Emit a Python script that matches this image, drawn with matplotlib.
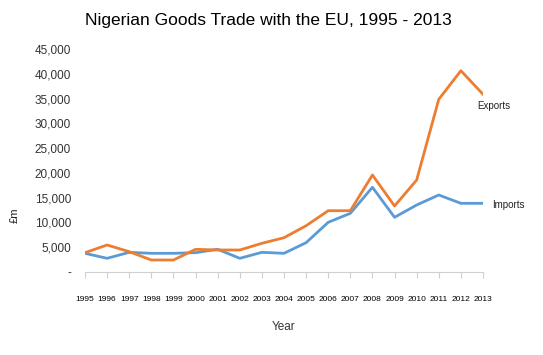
import matplotlib
matplotlib.use("Agg")
import matplotlib.pyplot as plt
from matplotlib.ticker import FuncFormatter

years = list(range(1995, 2014))
exports = [3900, 5450, 4100, 2420, 2420, 4580, 4440, 4440, 5790, 6920,
           9340, 12370, 12370, 19570, 13320, 18560, 34850, 40620, 35860]
imports = [3770, 2760, 3970, 3770, 3770, 3900, 4580, 2760, 3970, 3770,
           5920, 10030, 11840, 17090, 11040, 13520, 15540, 13860, 13860]

plt.rcParams['font.family'] = ['Liberation Sans', 'DejaVu Sans']

fig = plt.figure(figsize=(5.43, 3.55), dpi=100)
ax = fig.add_axes([85/543, 1-272/355, 398/543, 223/355])

x = list(range(len(years)))
ax.plot(x, imports, color='#5B9BD5', lw=2.0, solid_joinstyle='round')
ax.plot(x, exports, color='#ED7D31', lw=2.0, solid_joinstyle='round')

ax.set_xlim(0, len(years)-1)
ax.set_ylim(0, 45000)
ax.set_yticks(range(0, 45001, 5000))
ax.yaxis.set_major_formatter(FuncFormatter(lambda v, p: '-' if v == 0 else f'{int(v):,}'))
ax.set_xticks(x)
ax.set_xticklabels([str(y) for y in years], fontsize=6)
ax.tick_params(axis='y', length=0, labelsize=8.5, pad=10, colors='#333333')
ax.tick_params(axis='x', length=4, color='#d0d0d0', pad=13, labelsize=6)
for s in ['top', 'right', 'left']:
    ax.spines[s].set_visible(False)
ax.spines['bottom'].set_color('#d0d0d0')

ax.set_xlabel('Year', fontsize=8.5, labelpad=13, color='#333333')
ax.set_ylabel('£m', fontsize=8, color='#222222')
ax.yaxis.set_label_coords(-0.165, 0.256)

ax.text(17.75, 35860 - 2300, 'Exports', fontsize=7, ha='left', va='center', color='#222222')
ax.text(18.4, 13500, 'Imports', fontsize=7, ha='left', va='center', color='#222222')

fig.text(268/543, 1-20/355, 'Nigerian Goods Trade with the EU, 1995 - 2013',
         ha='center', va='center', fontsize=12.5)

fig.savefig('out.png', dpi=100)
